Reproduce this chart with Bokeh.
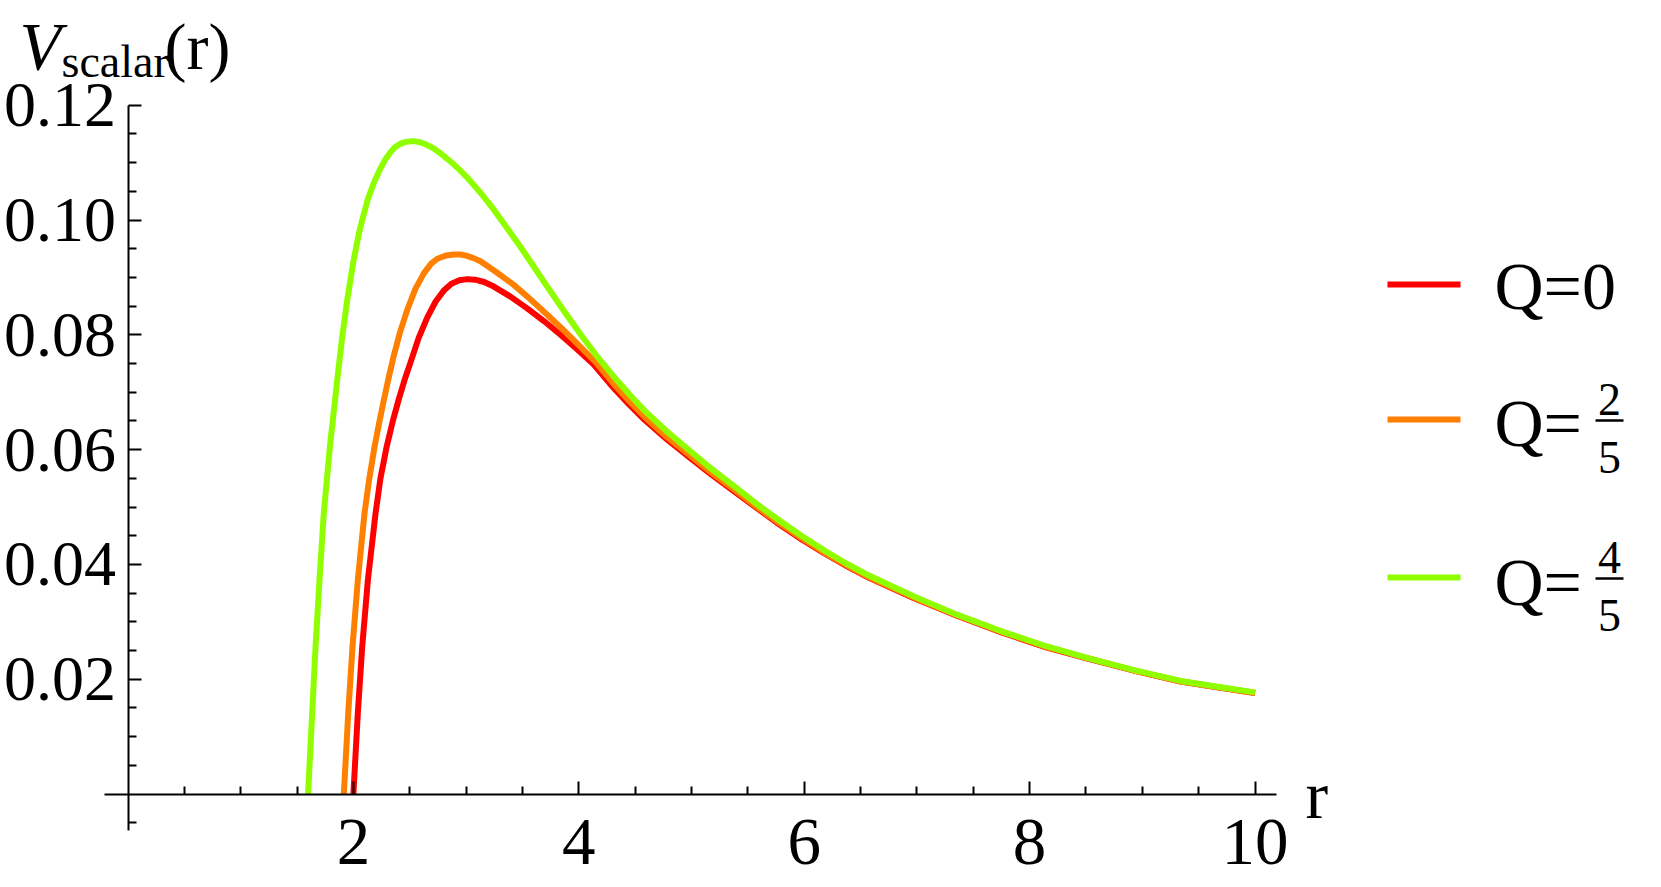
from bokeh.plotting import figure
from bokeh.models import Range1d, FixedTicker, NumeralTickFormatter, Label
from bokeh.embed import file_html
from bokeh.resources import INLINE

# ---------------- data ----------------
r_q0 = [2.000, 2.039, 2.078, 2.128, 2.196, 2.240, 2.294, 2.350, 2.403, 2.455, 2.507, 2.580,
        2.655, 2.730, 2.802, 2.870, 2.940, 3.010, 3.080, 3.160, 3.246, 3.390, 3.542, 3.690,
        3.838, 3.990, 4.133, 4.311, 4.450, 4.588, 4.780, 4.985, 5.180, 5.381, 5.580, 5.777,
        5.975, 6.173, 6.370, 6.570, 6.965, 7.361, 7.758, 8.154, 8.549, 8.946, 9.342, 9.670,
        10.000]
v_q0 = [0.0000, 0.0140, 0.0256, 0.0372, 0.0488, 0.0550, 0.0604, 0.0650, 0.0688, 0.0722, 0.0752, 0.0795,
        0.0830, 0.0858, 0.0877, 0.0889, 0.0895, 0.0897, 0.0896, 0.0892, 0.0884, 0.0867, 0.0846, 0.0824,
        0.0800, 0.0774, 0.0748, 0.0707, 0.0678, 0.0651, 0.0618, 0.0586, 0.0556, 0.0527, 0.0498, 0.0470,
        0.0444, 0.0420, 0.0398, 0.0377, 0.0342, 0.0310, 0.0281, 0.0255, 0.0234, 0.0214, 0.0196, 0.0186,
        0.0176]

r_q25 = [1.915, 1.954, 1.992, 2.039, 2.098, 2.140, 2.187, 2.230, 2.270, 2.315, 2.359, 2.410,
         2.477, 2.550, 2.625, 2.690, 2.750, 2.820, 2.891, 2.950, 3.000, 3.060, 3.128, 3.270,
         3.423, 3.570, 3.720, 3.870, 4.015, 4.160, 4.311, 4.450, 4.588, 4.780, 4.985, 5.180,
         5.381, 5.580, 5.777, 5.975, 6.173, 6.370, 6.570, 6.965, 7.361, 7.758, 8.154, 8.549,
         8.946, 9.342, 9.670, 10.000]
v_q25 = [0.0000, 0.0140, 0.0256, 0.0372, 0.0488, 0.0548, 0.0604, 0.0648, 0.0686, 0.0727, 0.0764, 0.0802,
         0.0843, 0.0880, 0.0907, 0.0924, 0.0933, 0.0938, 0.0940, 0.0940, 0.0938, 0.0934, 0.0928, 0.0909,
         0.0887, 0.0862, 0.0835, 0.0807, 0.0779, 0.0750, 0.0714, 0.0684, 0.0656, 0.0622, 0.0590, 0.0559,
         0.0530, 0.0500, 0.0472, 0.0446, 0.0421, 0.0399, 0.0378, 0.0343, 0.0311, 0.0282, 0.0256, 0.0235,
         0.0214, 0.0196, 0.0186, 0.0176]

r_q45 = [1.598, 1.634, 1.664, 1.699, 1.737, 1.791, 1.856, 1.900, 1.945, 1.995, 2.048, 2.085,
         2.128, 2.180, 2.240, 2.285, 2.329, 2.370, 2.420, 2.460, 2.507, 2.550, 2.600, 2.650,
         2.710, 2.773, 2.830, 2.890, 2.950, 3.010, 3.130, 3.246, 3.360, 3.483, 3.600, 3.720,
         3.870, 4.015, 4.160, 4.311, 4.450, 4.588, 4.780, 4.985, 5.180, 5.381, 5.580, 5.777,
         5.975, 6.173, 6.370, 6.570, 6.965, 7.361, 7.758, 8.154, 8.549, 8.946, 9.342, 9.670,
         10.000]
v_q45 = [0.0000, 0.0140, 0.0256, 0.0372, 0.0488, 0.0604, 0.0720, 0.0795, 0.0860, 0.0922, 0.0976, 0.1005,
         0.1036, 0.1064, 0.1090, 0.1106, 0.1118, 0.1127, 0.1133, 0.1136, 0.1137, 0.1137, 0.1135, 0.1131,
         0.1125, 0.1116, 0.1107, 0.1097, 0.1086, 0.1074, 0.1047, 0.1018, 0.0987, 0.0953, 0.0919, 0.0884,
         0.0841, 0.0801, 0.0763, 0.0727, 0.0696, 0.0667, 0.0632, 0.0598, 0.0566, 0.0536, 0.0505, 0.0477,
         0.0450, 0.0425, 0.0402, 0.0381, 0.0345, 0.0312, 0.0283, 0.0257, 0.0235, 0.0215, 0.0197, 0.0187,
         0.0177]

series_colors = ["#FF0000", "#FF7F00", "#8FFF00"]
legend_numerators = [None, "2", "4"]
legend_denominators = [None, "5", "5"]

x_ticks = [2, 4, 6, 8, 10]
x_minor_ticks = [0.5, 1, 1.5, 2.5, 3, 3.5, 4.5, 5, 5.5, 6.5, 7, 7.5, 8.5, 9, 9.5]
y_ticks = [0.02, 0.04, 0.06, 0.08, 0.10, 0.12]
y_minor_ticks = [-0.005, 0.005, 0.01, 0.015, 0.025, 0.03, 0.035, 0.045, 0.05, 0.055,
                 0.065, 0.07, 0.075, 0.085, 0.09, 0.095, 0.105, 0.11, 0.115]

# ---------------- layout (page pixel geometry of the reference) ----------------
W, H = 1656, 884
X0_PX, PX_PER_R = 127.5, 112.7      # page x of r=0, pixels per unit r
Y0_PX, PX_PER_V = 793.5, 5740.0     # page y of V=0, pixels per unit V
ORIGIN = 0                          # page offset of the canvas


def px2r(px):
    return (px - X0_PX) / PX_PER_R


def py2v(py):
    return (Y0_PX - py) / PX_PER_V


SERIF = "Liberation Serif"
LW = 6

p = figure(frame_width=W, frame_height=H,
           x_range=Range1d(px2r(ORIGIN), px2r(ORIGIN + W)),
           y_range=Range1d(py2v(ORIGIN + H), py2v(ORIGIN)),
           output_backend="svg", toolbar_location=None, min_border=0)
p.outline_line_color = None
p.xgrid.visible = False
p.ygrid.visible = False
p.background_fill_color = "white"
p.border_fill_color = "white"

# axes crossing at the origin
for ax in (p.xaxis[0], p.yaxis[0]):
    ax.fixed_location = 0
    ax.axis_line_color = "black"
    ax.axis_line_width = 2
    ax.major_tick_line_color = "black"
    ax.major_tick_line_width = 2
    ax.minor_tick_line_color = "black"
    ax.minor_tick_line_width = 2
    ax.major_tick_in = 13
    ax.major_tick_out = 0
    ax.minor_tick_in = 8
    ax.minor_tick_out = 0
    ax.major_label_text_font = SERIF
    ax.major_label_text_color = "black"

p.xaxis[0].major_label_text_font_size = "67px"
p.yaxis[0].major_label_text_font_size = "64px"
p.xaxis[0].major_label_standoff = 26
p.yaxis[0].major_label_standoff = 12
p.xaxis[0].bounds = (-0.21, 10.19)
p.xaxis[0].ticker = FixedTicker(ticks=x_ticks, minor_ticks=x_minor_ticks)
p.xaxis[0].formatter = NumeralTickFormatter(format="0")
p.yaxis[0].bounds = (-0.0064, 0.12)
p.yaxis[0].ticker = FixedTicker(ticks=y_ticks, minor_ticks=y_minor_ticks)
p.yaxis[0].formatter = NumeralTickFormatter(format="0.00")

# curves
for rs, vs, c in ((r_q0, v_q0, series_colors[0]),
                  (r_q25, v_q25, series_colors[1]),
                  (r_q45, v_q45, series_colors[2])):
    p.line(rs, vs, line_color=c, line_width=LW, line_join="round", line_cap="butt")


def add_label(px, baseline_py, text, size_px, style="normal", align="left"):
    # place by the text's visual middle (baseline minus ~0.3375 em)
    cy = baseline_py - 0.3375 * size_px
    p.add_layout(Label(x=px2r(px), y=py2v(cy), text=text, text_font=SERIF,
                       text_font_size=f"{size_px}px", text_font_style=style,
                       text_color="black", text_align=align, text_baseline="middle"))


# axis titles
add_label(19, 68, "V", 68, style="italic")
add_label(61, 77, "scalar", 46)
add_label(164, 68, "(r)", 66)
add_label(1305, 817, "r", 68)

# legend
swatch_y = [284, 419, 577]
q_base = [308, 445, 604]
for i, c in enumerate(series_colors):
    p.segment(x0=[px2r(1387)], y0=[py2v(swatch_y[i])], x1=[px2r(1460)], y1=[py2v(swatch_y[i])],
              line_color=c, line_width=LW)
    if legend_numerators[i] is None:
        add_label(1494, q_base[i], "Q=0", 68)
    else:
        add_label(1494, q_base[i], "Q=", 68)
        bar = swatch_y[i] + 1
        p.segment(x0=[px2r(1595)], y0=[py2v(bar)], x1=[px2r(1623)], y1=[py2v(bar)],
                  line_color="black", line_width=2.5)
        add_label(1609, bar - 5, legend_numerators[i], 46, align="center")
        add_label(1609, bar + 53, legend_denominators[i], 46, align="center")

open("out.html", "w").write(file_html(p, INLINE))
